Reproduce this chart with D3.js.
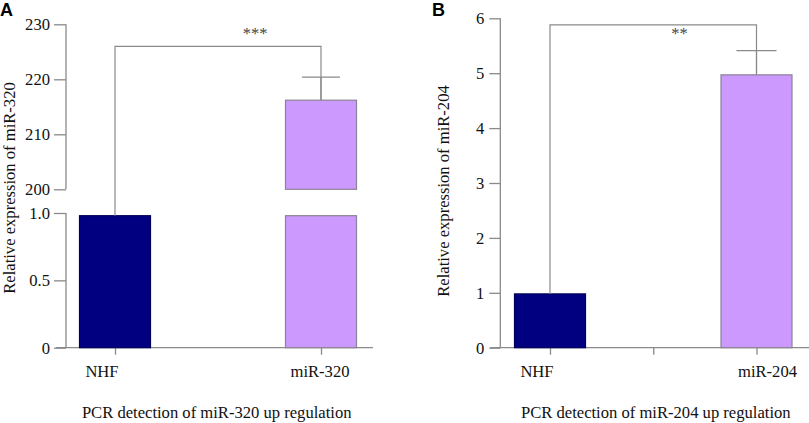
<!DOCTYPE html>
<html>
<head>
<meta charset="utf-8">
<script src="https://cdn.jsdelivr.net/npm/d3@7"></script>
<style>
  html, body { margin: 0; padding: 0; background: #fff; }
  svg { display: block; }
  text { font-family: "Liberation Serif", "Times New Roman", serif; }
</style>
</head>
<body>
<svg id="chart" width="809" height="423"></svg>
<script>
// ---------- DATA ----------
// Panel A (broken y axis)
const categoriesA = ["NHF", "miR-320"];
const valuesA = [0.98, 216.2];
const errorsA = [0, 4.2];
const lowerTicksA = [0, 0.5, 1.0];
const upperTicksA = [200, 210, 220, 230];
const lowerDomainA = [0, 1];
const upperDomainA = [200, 230];
const lowerCutA = 0.98;          // height of the lower piece of a broken bar
const bracketA = 226;
const starsA = "***";
const yTitleA = "Relative expression of miR-320";
const xTitleA = "PCR detection of miR-320 up regulation";

// Panel B
const categoriesB = ["NHF", "miR-204"];
const tickCatsB = ["NHF", "", "miR-204"];
const valuesB = [0.98, 4.97];
const errorsB = [0, 0.44];
const yTicksB = [0, 1, 2, 3, 4, 5, 6];
const yDomainB = [0, 6];
const bracketB = 5.88;
const starsB = "**";
const yTitleB = "Relative expression of miR-204";
const xTitleB = "PCR detection of miR-204 up regulation";

const colors = ["#000080", "#cc99ff"];
const strokes = ["#00005a", "#8c8296"];

// ---------- DRAW ----------
const svg = d3.select("#chart");
const axisColor = "#8a8a8a";
const baseY = 347.7;
const barW = 71;
const FS = "16.6px";
const serif = '"Liberation Serif", "Times New Roman", serif';

function styleAxis(g) {
  g.attr("font-family", serif).attr("font-size", 16.6);
  g.selectAll("path.domain").remove();
  g.selectAll("line").attr("stroke", axisColor).attr("stroke-width", 1.3);
  g.selectAll("text").attr("fill", "#111").style("font-size", FS).style("font-family", serif);
}

// ===== Panel A =====
(function () {
  const axX = 66;
  const x = d3.scalePoint().domain(categoriesA).range([115, 321]);
  const yLow = d3.scaleLinear().domain(lowerDomainA).range([baseY, 213]);
  const yUp = d3.scaleLinear().domain(upperDomainA).range([189.3, 24.3]);

  const g = svg.append("g");

  const gu = g.append("g").attr("transform", `translate(${axX},0)`)
    .call(d3.axisLeft(yUp).tickValues(upperTicksA).tickSize(12).tickPadding(4).tickFormat(d3.format("d")));
  styleAxis(gu);
  g.append("line").attr("x1", axX).attr("x2", axX)
    .attr("y1", yUp(upperDomainA[1])).attr("y2", yUp(upperDomainA[0]))
    .attr("stroke", axisColor).attr("stroke-width", 1.3);
  const gl = g.append("g").attr("transform", `translate(${axX},0)`)
    .call(d3.axisLeft(yLow).tickValues(lowerTicksA).tickSize(12).tickPadding(4)
      .tickFormat(d => d === 0 ? "0" : d3.format(".1f")(d)));
  styleAxis(gl);
  g.append("line").attr("x1", axX).attr("x2", axX)
    .attr("y1", yLow(lowerDomainA[1])).attr("y2", yLow(0))
    .attr("stroke", axisColor).attr("stroke-width", 1.3);

  const gx = g.append("g").attr("transform", `translate(0,${baseY})`)
    .call(d3.axisBottom(x).tickSize(7).tickFormat(""));
  styleAxis(gx);
  g.append("line").attr("x1", axX - 10).attr("x2", 373).attr("y1", baseY).attr("y2", baseY)
    .attr("stroke", axisColor).attr("stroke-width", 1.3);

  categoriesA.forEach((c, i) => {
    const v = valuesA[i];
    const lowTop = v > lowerDomainA[1] ? lowerCutA : v;
    g.append("rect").attr("x", x(c) - barW / 2).attr("width", barW)
      .attr("y", yLow(lowTop)).attr("height", yLow(0) - yLow(lowTop))
      .attr("fill", colors[i]).attr("stroke", strokes[i]).attr("stroke-width", 1.2);
    if (v > upperDomainA[0]) {
      g.append("rect").attr("x", x(c) - barW / 2).attr("width", barW)
        .attr("y", yUp(v)).attr("height", yUp(upperDomainA[0]) - yUp(v))
        .attr("fill", colors[i]).attr("stroke", strokes[i]).attr("stroke-width", 1.2);
    }
  });

  const topY = (i) => valuesA[i] > upperDomainA[0] ? yUp(valuesA[i]) : yLow(valuesA[i]);

  categoriesA.forEach((c, i) => {
    if (errorsA[i] > 0) {
      const ey = yUp(valuesA[i] + errorsA[i]);
      g.append("line").attr("x1", x(c) - 19).attr("x2", x(c) + 19).attr("y1", ey).attr("y2", ey)
        .attr("stroke", axisColor).attr("stroke-width", 1.2);
      g.append("line").attr("x1", x(c)).attr("x2", x(c)).attr("y1", ey).attr("y2", topY(i))
        .attr("stroke", axisColor).attr("stroke-width", 1.2);
    }
  });

  const by = yUp(bracketA);
  const x0 = x(categoriesA[0]), x1 = x(categoriesA[1]);
  g.append("path")
    .attr("d", `M${x0},${topY(0)}V${by}H${x1}V${topY(1)}`)
    .attr("fill", "none").attr("stroke", axisColor).attr("stroke-width", 1.2);
  g.append("text").attr("x", x0 + (x1 - x0) * 0.68).attr("y", 38.5)
    .attr("text-anchor", "middle").attr("fill", "#444").style("font-size", FS).text(starsA);

  const labelOffA = [-13, -1];
  categoriesA.forEach((c, i) => {
    g.append("text").attr("x", x(c) + labelOffA[i]).attr("y", 377)
      .attr("text-anchor", "middle").attr("fill", "#111").style("font-size", FS).text(c);
  });

  g.append("text").attr("x", 216.7).attr("y", 417.5).attr("text-anchor", "middle")
    .attr("fill", "#111").style("font-size", FS).text(xTitleA);
  g.append("text").attr("transform", "translate(14.5,188) rotate(-90)").attr("text-anchor", "middle")
    .attr("fill", "#111").style("font-size", FS).text(yTitleA);

  svg.append("text").attr("x", 0).attr("y", 15.5)
    .style("font-family", '"Liberation Sans", Arial, sans-serif').style("font-weight", "bold")
    .style("font-size", "18px").attr("fill", "#000").text("A");
})();

// ===== Panel B =====
(function () {
  const axX = 500.3;
  const x = d3.scalePoint().domain(tickCatsB).range([550, 756.5]);
  const y = d3.scaleLinear().domain(yDomainB).range([baseY, 18.3]);
  const g = svg.append("g");

  const gy = g.append("g").attr("transform", `translate(${axX},0)`)
    .call(d3.axisLeft(y).tickValues(yTicksB).tickSize(11).tickPadding(5).tickFormat(d3.format("d")));
  styleAxis(gy);
  g.append("line").attr("x1", axX).attr("x2", axX).attr("y1", y(yDomainB[1])).attr("y2", y(0))
    .attr("stroke", axisColor).attr("stroke-width", 1.3);

  const gx = g.append("g").attr("transform", `translate(0,${baseY})`)
    .call(d3.axisBottom(x).tickSize(7).tickFormat(""));
  styleAxis(gx);
  g.append("line").attr("x1", axX - 10).attr("x2", 809).attr("y1", baseY).attr("y2", baseY)
    .attr("stroke", axisColor).attr("stroke-width", 1.3);

  categoriesB.forEach((c, i) => {
    g.append("rect").attr("x", x(c) - barW / 2).attr("width", barW)
      .attr("y", y(valuesB[i])).attr("height", y(0) - y(valuesB[i]))
      .attr("fill", colors[i]).attr("stroke", strokes[i]).attr("stroke-width", 1.2);
  });

  categoriesB.forEach((c, i) => {
    if (errorsB[i] > 0) {
      const ey = y(valuesB[i] + errorsB[i]);
      g.append("line").attr("x1", x(c) - 20).attr("x2", x(c) + 20).attr("y1", ey).attr("y2", ey)
        .attr("stroke", axisColor).attr("stroke-width", 1.2);
      g.append("line").attr("x1", x(c)).attr("x2", x(c)).attr("y1", ey).attr("y2", y(valuesB[i]))
        .attr("stroke", axisColor).attr("stroke-width", 1.2);
    }
  });

  const by = y(bracketB);
  const x0 = x(categoriesB[0]), x1 = x(categoriesB[1]);
  g.append("path")
    .attr("d", `M${x0},${y(valuesB[0])}V${by}H${x1}V${y(valuesB[1])}`)
    .attr("fill", "none").attr("stroke", axisColor).attr("stroke-width", 1.2);
  g.append("text").attr("x", x0 + (x1 - x0) * 0.627).attr("y", 38.5)
    .attr("text-anchor", "middle").attr("fill", "#444").style("font-size", FS).text(starsB);

  const labelOffB = [-13, 11];
  categoriesB.forEach((c, i) => {
    g.append("text").attr("x", x(c) + labelOffB[i]).attr("y", 377)
      .attr("text-anchor", "middle").attr("fill", "#111").style("font-size", FS).text(c);
  });

  g.append("text").attr("x", 655.8).attr("y", 417.5).attr("text-anchor", "middle")
    .attr("fill", "#111").style("font-size", FS).text(xTitleB);
  g.append("text").attr("transform", "translate(449,191) rotate(-90)").attr("text-anchor", "middle")
    .attr("fill", "#111").style("font-size", FS).text(yTitleB);

  svg.append("text").attr("x", 432).attr("y", 15.5)
    .style("font-family", '"Liberation Sans", Arial, sans-serif').style("font-weight", "bold")
    .style("font-size", "18px").attr("fill", "#000").text("B");
})();
</script>
</body>
</html>
